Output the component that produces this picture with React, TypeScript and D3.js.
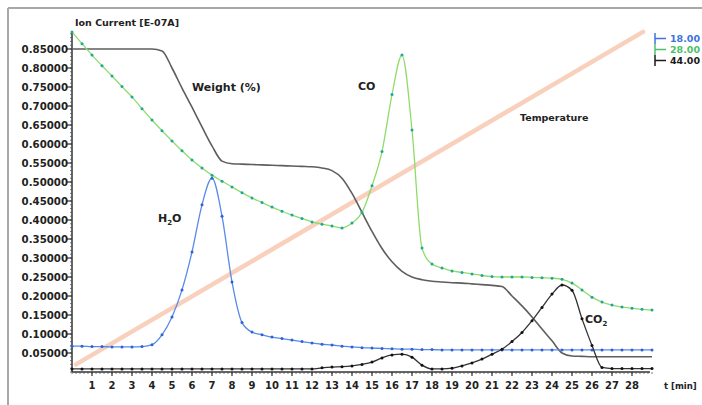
import React from "react";
import * as d3 from "d3";

const times = [
  0, 0.5, 1, 1.5, 2, 2.5, 3, 3.5, 4, 4.5, 5, 5.5, 6, 6.5, 7, 7.5, 8, 8.5, 9, 9.5,
  10, 10.5, 11, 11.5, 12, 12.5, 13, 13.5, 14, 14.5, 15, 15.5, 16, 16.5, 17, 17.5, 18, 18.5, 19, 19.5,
  20, 20.5, 21, 21.5, 22, 22.5, 23, 23.5, 24, 24.5, 25, 25.5, 26, 26.5, 27, 27.5, 28, 28.5, 29,
];

// m/z 18 (H2O)
const h2o = [
  0.068, 0.068, 0.067, 0.067, 0.066, 0.066, 0.066, 0.067, 0.072, 0.098, 0.145, 0.216, 0.316, 0.44, 0.51, 0.41, 0.237, 0.13, 0.105, 0.098,
  0.092, 0.088, 0.084, 0.08, 0.076, 0.073, 0.071, 0.068, 0.066, 0.064, 0.063, 0.062, 0.061, 0.06, 0.06, 0.059, 0.059, 0.058, 0.058, 0.058,
  0.058, 0.058, 0.058, 0.058, 0.058, 0.058, 0.058, 0.058, 0.058, 0.058, 0.058, 0.058, 0.058, 0.058, 0.058, 0.058, 0.058, 0.058, 0.058,
];

// m/z 28 (CO)
const co = [
  0.895, 0.864, 0.834, 0.806, 0.779, 0.751, 0.724, 0.693, 0.663, 0.635, 0.608, 0.582, 0.558, 0.537, 0.518, 0.502, 0.487, 0.472, 0.458, 0.446,
  0.434, 0.423, 0.413, 0.404, 0.395, 0.389, 0.384, 0.379, 0.392, 0.42, 0.49, 0.58, 0.73, 0.834, 0.637, 0.326, 0.284, 0.274, 0.266, 0.262,
  0.258, 0.254, 0.251, 0.25, 0.25, 0.25, 0.249, 0.248, 0.247, 0.244, 0.234, 0.216, 0.197, 0.184, 0.176, 0.171, 0.168, 0.165, 0.163,
];

// m/z 44 (CO2)
const co2 = [
  0.008, 0.008, 0.008, 0.008, 0.008, 0.008, 0.008, 0.008, 0.008, 0.008, 0.008, 0.008, 0.008, 0.008, 0.008, 0.008, 0.008, 0.008, 0.008, 0.008,
  0.008, 0.008, 0.008, 0.008, 0.008, 0.011, 0.013, 0.014, 0.016, 0.02, 0.026, 0.037, 0.045, 0.047, 0.039, 0.018, 0.008, 0.008, 0.01, 0.016,
  0.024, 0.034, 0.047, 0.06, 0.08, 0.104, 0.135, 0.17, 0.205, 0.229, 0.215, 0.14, 0.07, 0.012, 0.009, 0.009, 0.009, 0.009, 0.009,
];

// Weight (%) curve (on the same ion-current axis)
const weight = [
  0.85, 0.85, 0.85, 0.85, 0.85, 0.85, 0.85, 0.85, 0.85, 0.845, 0.8, 0.747, 0.697, 0.645, 0.595, 0.555, 0.548, 0.547, 0.546, 0.545,
  0.544, 0.543, 0.542, 0.541, 0.54, 0.537, 0.53, 0.51, 0.47, 0.42, 0.37, 0.325, 0.29, 0.265, 0.25, 0.243, 0.239, 0.237, 0.235, 0.234,
  0.232, 0.23, 0.228, 0.225, 0.2, 0.174, 0.145, 0.113, 0.082, 0.05, 0.042, 0.041, 0.04, 0.04, 0.04, 0.04, 0.04, 0.04, 0.04,
];

// Temperature line (straight ramp)
const tempTimes = [0.2, 28.55];
const tempValues = [0.02, 0.895];

const yTicks = [0.05, 0.1, 0.15, 0.2, 0.25, 0.3, 0.35, 0.4, 0.45, 0.5, 0.55, 0.6, 0.65, 0.7, 0.75, 0.8, 0.85];
const xTicks = [1, 2, 3, 4, 5, 6, 7, 8, 9, 10, 11, 12, 13, 14, 15, 16, 17, 18, 19, 20, 21, 22, 23, 24, 25, 26, 27, 28];

const legendLabels = ["18.00", "28.00", "44.00"];
const legendColors = ["#3d72e0", "#4cc06a", "#1a1a1a"];

const FONT = "DejaVu Sans, Verdana, sans-serif";

export default function App() {
  const W = 702;
  const H = 405;
  const x = d3.scaleLinear().domain([0, 29]).range([72, 652]);
  const y = d3.scaleLinear().domain([0, 0.85]).range([372, 49]);

  const mk = (vals: number[]) => times.map((t, i) => [t, vals[i]] as [number, number]);
  const line = d3
    .line<[number, number]>()
    .x((d) => x(d[0]))
    .y((d) => y(d[1]))
    .curve(d3.curveMonotoneX);

  const series = [
    { vals: h2o, stroke: "#5a8ae8", dot: "#2f62d8" },
    { vals: co, stroke: "#8fdc6a", dot: "#1fa89a" },
    { vals: co2, stroke: "#333333", dot: "#111111" },
  ];

  const tempLine = d3
    .line<number>()
    .x((_, i) => x(tempTimes[i]))
    .y((d) => y(d));

  const minorY = d3.range(0, 0.9, 0.01);
  const minorX = d3.range(0, 29.01, 0.2);

  return (
    <svg
      width={W}
      height={H}
      style={{ position: "fixed", left: 0, top: 0, background: "#fff" }}
    >
      <rect x={0} y={0} width={W} height={H} fill="#fff" />
      {/* frame */}
      <line x1={8} y1={8} x2={W} y2={8} stroke="#a8a8a8" strokeWidth={2} />
      <line x1={8} y1={8} x2={8} y2={H} stroke="#a8a8a8" strokeWidth={2} />

      {/* temperature ramp */}
      <path
        d={tempLine(tempValues) || ""}
        stroke="#f4b090"
        strokeWidth={4.5}
        strokeOpacity={0.6}
        fill="none"
        strokeLinecap="round"
      />

      {/* axes */}
      <line x1={x(0)} y1={33} x2={x(0)} y2={y(0)} stroke="#333" strokeWidth={1.5} />
      <line x1={x(0)} y1={y(0)} x2={650} y2={y(0)} stroke="#333" strokeWidth={1.5} />
      {minorY.map((v, i) => (
        <line key={"my" + i} x1={x(0) - 2} x2={x(0)} y1={y(v)} y2={y(v)} stroke="#555" strokeWidth={0.8} />
      ))}
      {minorX.map((v, i) => (
        <line key={"mx" + i} x1={x(v)} x2={x(v)} y1={y(0)} y2={y(0) + 2} stroke="#555" strokeWidth={0.8} />
      ))}
      {yTicks.map((v) => (
        <g key={"yt" + v}>
          <line x1={x(0) - 5} x2={x(0)} y1={y(v)} y2={y(v)} stroke="#333" strokeWidth={1.2} />
          <text
            x={68}
            y={y(v) + 3.8}
            textAnchor="end"
            fontFamily={FONT}
            fontWeight="bold"
            fontSize={10.2}
            fill="#222"
          >
            {v.toFixed(5)}
          </text>
        </g>
      ))}
      {xTicks.map((v) => (
        <g key={"xt" + v}>
          <line x1={x(v)} x2={x(v)} y1={y(0)} y2={y(0) + 4} stroke="#333" strokeWidth={1.2} />
          <text
            x={x(v)}
            y={389}
            textAnchor="middle"
            fontFamily={FONT}
            fontWeight="bold"
            fontSize={10}
            fill="#222"
          >
            {v}
          </text>
        </g>
      ))}
      <text x={664} y={389} fontFamily={FONT} fontWeight="bold" fontSize={8.5} fill="#222">
        t [min]
      </text>
      <text x={75} y={26} fontFamily={FONT} fontWeight="bold" fontSize={9.5} fill="#222">
        Ion Current [E-07A]
      </text>

      {/* weight curve */}
      <path d={line(mk(weight)) || ""} stroke="#5e5e5e" strokeWidth={1.6} fill="none" />

      {/* ion current series */}
      {series.map((s, si) => (
        <g key={"s" + si}>
          <path d={line(mk(s.vals)) || ""} stroke={s.stroke} strokeWidth={1.3} fill="none" />
          {mk(s.vals).map((d, i) => (
            <circle key={i} cx={x(d[0])} cy={y(d[1])} r={1.5} fill={s.dot} />
          ))}
        </g>
      ))}

      {/* annotations */}
      <text x={192} y={91} fontFamily={FONT} fontWeight="bold" fontSize={11} fill="#222">
        Weight (%)
      </text>
      <text x={358} y={90} fontFamily={FONT} fontWeight="bold" fontSize={11} fill="#222">
        CO
      </text>
      <text x={158} y={222} fontFamily={FONT} fontWeight="bold" fontSize={11} fill="#222">
        H<tspan fontSize={7} dy={3}>2</tspan>
        <tspan dy={-3}>O</tspan>
      </text>
      <text x={585} y={323} fontFamily={FONT} fontWeight="bold" fontSize={11} fill="#222">
        CO<tspan fontSize={7} dy={3}>2</tspan>
      </text>
      <text x={520} y={121} fontFamily={FONT} fontWeight="bold" fontSize={9.5} fill="#222">
        Temperature
      </text>

      {/* legend */}
      {legendLabels.map((lab, i) => (
        <g key={"lg" + i}>
          <line x1={655} x2={655} y1={33 + i * 11} y2={44 + i * 11} stroke={legendColors[i]} strokeWidth={1.5} />
          <line x1={655} x2={666} y1={38.5 + i * 11} y2={38.5 + i * 11} stroke={legendColors[i]} strokeWidth={1.5} />
          <text
            x={670}
            y={42 + i * 11}
            fontFamily={FONT}
            fontWeight="bold"
            fontSize={9.5}
            fill={legendColors[i]}
          >
            {lab}
          </text>
        </g>
      ))}
    </svg>
  );
}
